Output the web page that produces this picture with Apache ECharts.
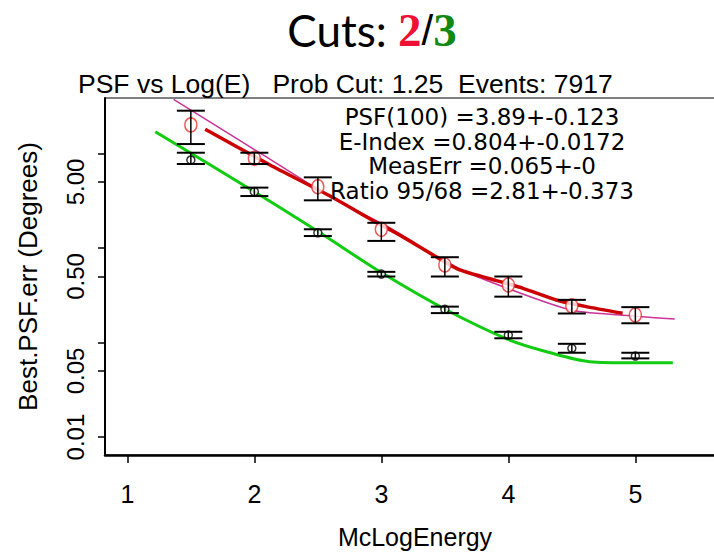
<!DOCTYPE html>
<html>
<head>
<meta charset="utf-8">
<script src="https://cdn.jsdelivr.net/npm/echarts@6/dist/echarts.min.js"></script>
<style>
html,body{margin:0;padding:0;background:#fff;}
#chart{width:714px;height:553px;}
</style>
</head>
<body>
<div id="chart"></div>
<script>
// ---- data ----
const energies = [1.5, 2, 2.5, 3, 3.5, 4, 4.5, 5];
// "2" cuts (red circles)
const psf2 = [20.1, 8.9, 4.46, 1.58, 0.662, 0.407, 0.244, 0.196];
const psf2Low = [12.6, 7.75, 3.2, 1.19, 0.50, 0.306, 0.203, 0.16];
const psf2High = [28.4, 10.2, 5.6, 1.85, 0.80, 0.50, 0.283, 0.237];
// "3" cuts (black circles)
const psf3 = [8.55, 3.95, 1.45, 0.531, 0.225, 0.120, 0.087, 0.072];
const psf3Low = [7.75, 3.55, 1.34, 0.50, 0.205, 0.111, 0.078, 0.068];
const psf3High = [10.2, 4.36, 1.58, 0.56, 0.24, 0.13, 0.097, 0.078];
// fitted curves
const fitPinkX = [1.364, 2.069, 2.596, 3.068, 3.514, 4.012, 4.509, 5.007, 5.31];
const fitPinkY = [37.5, 9.66, 3.49, 1.63, 0.69, 0.366, 0.218, 0.19, 0.177];
const fitRedX = [1.613, 2.124, 2.596, 2.95, 3.146, 3.408, 3.618, 3.906, 4.116, 4.378, 4.614, 4.90];
const fitRedY = [18.1, 7.57, 3.55, 1.9, 1.37, 0.845, 0.586, 0.452, 0.375, 0.282, 0.24, 0.204];
const fitGreenX = [1.22, 2.02, 2.517, 3.0, 3.513, 4.011, 4.30, 4.64, 4.98, 5.295];
const fitGreenY = [17.0, 3.80, 1.45, 0.55, 0.221, 0.106, 0.080, 0.0628, 0.0612, 0.0612];
// ticks / labels
const xTicks = [1, 2, 3, 4, 5];
const yTicks = [10, 5, 1, 0.5, 0.1, 0.05, 0.01];
const yLabels = [5, 0.5, 0.05, 0.01];
const titleParts = ['Cuts: ', '2', '/', '3'];
const subtitle = 'PSF vs Log(E)   Prob Cut: 1.25  Events: 7917';
const fitText = ['PSF(100) =3.89+-0.123', 'E-Index =0.804+-0.0172', 'MeasErr =0.065+-0', 'Ratio 95/68 =2.81+-0.373'];
const xName = 'McLogEnergy';
const yName = 'Best.PSF.err (Degrees)';

const FONT = '"Liberation Sans", Arial, sans-serif';
const zip = (a, b) => a.map((v, i) => [v, b[i]]);

function errBars(capHalf) {
  return function (params, api) {
    const x = api.value(0), lo = api.value(1), hi = api.value(2);
    const pLo = api.coord([x, lo]);
    const pHi = api.coord([x, hi]);
    const st = { stroke: '#000', lineWidth: 2 };
    return {
      type: 'group',
      children: [
        { type: 'line', shape: { x1: pLo[0], y1: pLo[1], x2: pHi[0], y2: pHi[1] }, style: { stroke: '#000', lineWidth: 1.5 } },
        { type: 'line', shape: { x1: pLo[0] - capHalf, y1: pLo[1], x2: pLo[0] + capHalf, y2: pLo[1] }, style: st },
        { type: 'line', shape: { x1: pHi[0] - capHalf, y1: pHi[1], x2: pHi[0] + capHalf, y2: pHi[1] }, style: st }
      ]
    };
  };
}

const chart = echarts.init(document.getElementById('chart'), null, { renderer: 'svg' });
chart.setOption({
  backgroundColor: '#fff',
  animation: false,
  graphic: [
    {
      type: 'text', x: 372, y: 30,
      style: {
        text: '{a|' + titleParts[0] + '}{r|' + titleParts[1] + '}{s|' + titleParts[2] + '}{g|' + titleParts[3] + '}',
        align: 'center', verticalAlign: 'middle',
        rich: {
          a: { fontFamily: 'Lato, sans-serif', fontSize: 44, fill: '#000' },
          r: { fontFamily: '"Liberation Serif", serif', fontWeight: 'bold', fontSize: 47, fill: '#ee1133' },
          s: { fontFamily: '"Liberation Sans", sans-serif', fontSize: 42, fill: '#000' },
          g: { fontFamily: '"Liberation Serif", serif', fontWeight: 'bold', fontSize: 47, fill: '#118811' }
        }
      }
    },
    {
      type: 'text', x: 78, y: 84,
      style: { text: subtitle, fontFamily: FONT, fontSize: 26.5, fill: '#000', verticalAlign: 'middle' }
    },
    {
      type: 'text', x: 482, y: 105, z: 10,
      style: { text: fitText.join('\n'), fontFamily: '"DejaVu Sans", sans-serif', fontSize: 23, lineHeight: 24.5, fill: '#000', align: 'center', verticalAlign: 'top' }
    }
  ],
  grid: { left: 105, top: 98, width: 620, height: 357, show: true, borderColor: '#000', borderWidth: 1, backgroundColor: '#fff',
    containLabel: false, outerBoundsMode: 'none' },
  xAxis: {
    type: 'value', min: 0.824, max: 5.706,
    name: xName, nameLocation: 'middle', nameGap: 69,
    nameTextStyle: { fontFamily: FONT, fontSize: 25, lineHeight: 26, color: '#000' },
    axisLine: { show: true, onZero: false, lineStyle: { color: '#000', width: 2.5 } },
    axisTick: { show: true, length: 8, lineStyle: { color: '#000', width: 1.5 }, customValues: xTicks },
    axisLabel: { fontFamily: FONT, fontSize: 25, color: '#000', margin: 26, customValues: xTicks, formatter: v => String(v) },
    splitLine: { show: false }
  },
  yAxis: {
    type: 'log', logBase: 10, min: 0.00646, max: 38.7,
    name: yName, nameLocation: 'middle', nameGap: 64,
    nameTextStyle: { fontFamily: FONT, fontSize: 26, color: '#000' },
    axisLine: { show: true, lineStyle: { color: '#000', width: 2 } },
    axisTick: { show: true, length: 7, lineStyle: { color: '#000', width: 1.5 }, customValues: yTicks },
    axisLabel: { fontFamily: FONT, fontSize: 24, color: '#000', rotate: 90, margin: 18, customValues: yLabels,
      formatter: v => Number(v).toFixed(2) },
    splitLine: { show: false }, minorTick: { show: false }
  },
  series: [
    { type: 'line', data: zip(fitPinkX, fitPinkY), showSymbol: false, smooth: 0.2, lineStyle: { color: '#cc3399', width: 1.5 }, z: 2 },
    { type: 'line', data: zip(fitRedX, fitRedY), showSymbol: false, smooth: 0.2, lineStyle: { color: '#cc0000', width: 3.5 }, z: 3 },
    { type: 'line', data: zip(fitGreenX, fitGreenY), showSymbol: false, smooth: 0.3, lineStyle: { color: '#11cc11', width: 3 }, z: 3 },
    { type: 'scatter', data: zip(energies, psf2), symbol: 'circle', symbolSize: [12, 14],
      itemStyle: { color: '#fff', borderColor: '#e83030', borderWidth: 1.5 }, z: 4 },
    { type: 'scatter', data: zip(energies, psf3), symbol: 'circle', symbolSize: 8,
      itemStyle: { color: '#fff', borderColor: '#000', borderWidth: 1.5 }, z: 4 },
    { type: 'custom', renderItem: errBars(14), data: energies.map((x, i) => [x, psf2Low[i], psf2High[i]]),
      encode: { x: 0, y: [1, 2] }, z: 5 },
    { type: 'custom', renderItem: errBars(14), data: energies.map((x, i) => [x, psf3Low[i], psf3High[i]]),
      encode: { x: 0, y: [1, 2] }, z: 5 }
  ]
});
</script>
</body>
</html>
